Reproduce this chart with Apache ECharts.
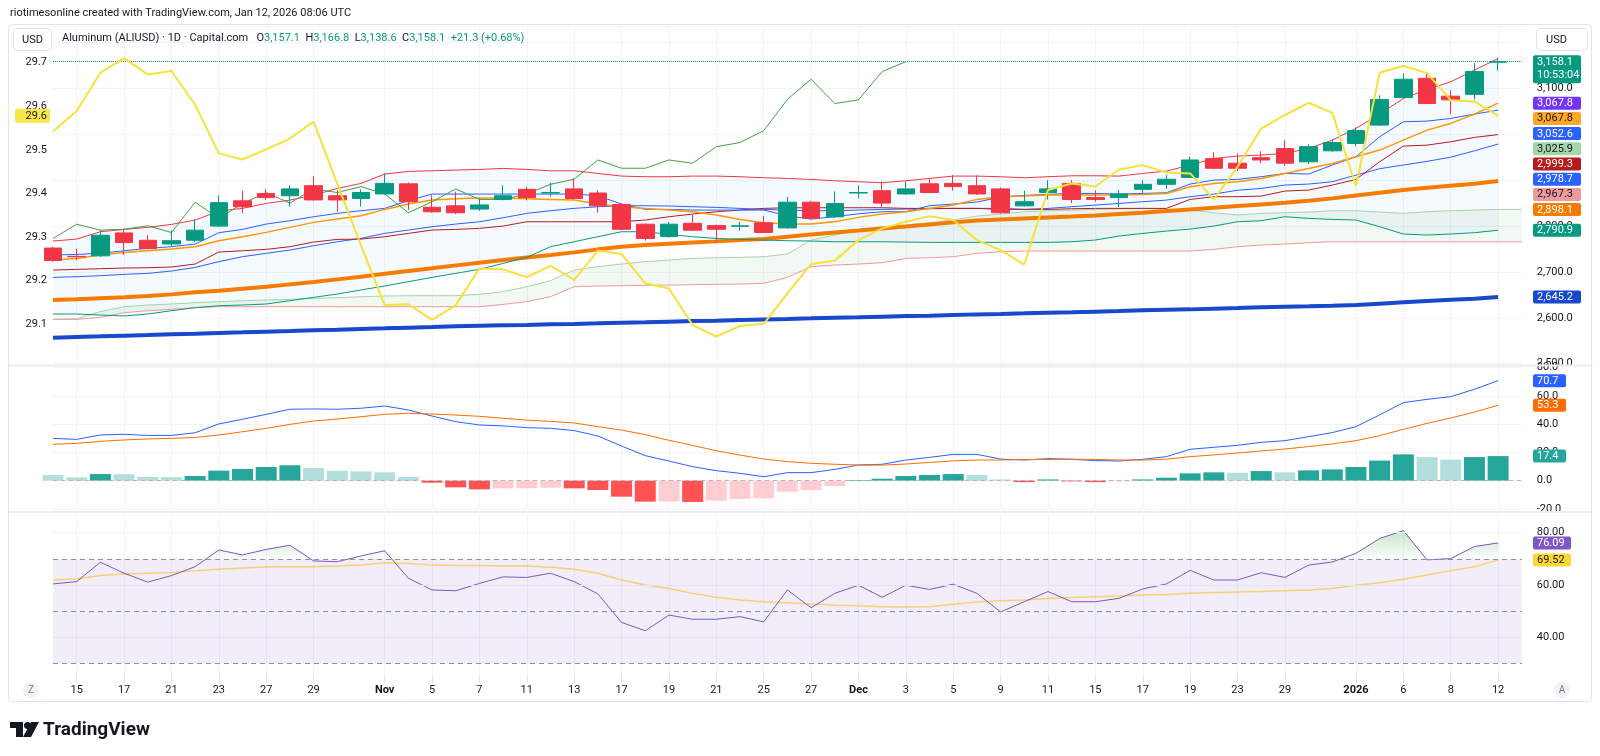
<!DOCTYPE html>
<html>
<head>
<meta charset="utf-8">
<title>Aluminum (ALIUSD) · 1D · Capital.com</title>
<script src="https://cdn.jsdelivr.net/npm/echarts@6.0.0/dist/echarts.min.js"></script>
<style>
    html, body { margin: 0; padding: 0; background: #ffffff; }
    #chart { width: 1600px; height: 756px; }
</style>
</head>
<body>
<div id="chart"></div>
<script type="text/javascript">
    // trading days on the chart
    var dates = ['2025-10-14','2025-10-15','2025-10-16','2025-10-17','2025-10-20','2025-10-21','2025-10-22','2025-10-23','2025-10-24','2025-10-27','2025-10-28','2025-10-29','2025-10-30','2025-10-31',
        '2025-11-03','2025-11-04','2025-11-05','2025-11-06','2025-11-07','2025-11-10','2025-11-11','2025-11-12','2025-11-13','2025-11-14','2025-11-17','2025-11-18','2025-11-19','2025-11-20','2025-11-21','2025-11-24','2025-11-25','2025-11-26','2025-11-27','2025-11-28',
        '2025-12-01','2025-12-02','2025-12-03','2025-12-04','2025-12-05','2025-12-08','2025-12-09','2025-12-10','2025-12-11','2025-12-12','2025-12-15','2025-12-16','2025-12-17','2025-12-18','2025-12-19','2025-12-22','2025-12-23','2025-12-24','2025-12-29','2025-12-30','2025-12-31',
        '2026-01-02','2026-01-05','2026-01-06','2026-01-07','2026-01-08','2026-01-09','2026-01-12'];

    // time axis labels
    var tickDates = ['2025-10-15','2025-10-17','2025-10-21','2025-10-23','2025-10-27','2025-10-29','2025-11-03','2025-11-05','2025-11-07','2025-11-11','2025-11-13','2025-11-17','2025-11-19','2025-11-21','2025-11-25','2025-11-27',
        '2025-12-01','2025-12-03','2025-12-05','2025-12-09','2025-12-11','2025-12-15','2025-12-17','2025-12-19','2025-12-23','2025-12-29','2026-01-02','2026-01-06','2026-01-08','2026-01-12'];
    var tickNames = ['15','17','21','23','27','29','Nov','5','7','11','13','17','19','21','25','27','Dec','3','5','9','11','15','17','19','23','29','2026','6','8','12'];

    // candles: open, close, low, high
    var ohlc = [
        [2752,2725,2722,2755],[2734,2733,2726,2751],[2735,2780,2733,2791],[2785,2764,2737,2793],[2769,2751,2749,2780],
        [2761,2768,2757,2790],[2769,2791,2765,2815],[2800,2851,2798,2867],[2855,2842,2828,2877],[2871,2862,2857,2881],
        [2866,2881,2842,2889],[2888,2857,2855,2909],[2866,2857,2831,2878],[2860,2873,2842,2880],[2870,2893,2868,2915],
        [2892,2853,2835,2895],[2841,2831,2829,2867],[2844,2829,2826,2875],[2837,2846,2833,2860],[2858,2866,2856,2889],
        [2880,2862,2856,2886],[2872,2873,2864,2894],[2881,2860,2858,2904],[2872,2844,2829,2878],[2847,2793,2792,2849],
        [2804,2773,2768,2806],[2777,2804,2775,2809],[2806,2791,2789,2824],[2801,2793,2766,2803],[2799.5,2800.5,2790,2809],
        [2807,2786,2785,2822],[2796,2852,2794,2864],[2852,2817,2815,2855],[2820,2849,2818,2875],[2872,2873,2860,2889],
        [2877,2850,2842,2897],[2870,2881,2868,2897],[2892,2873,2872,2904],[2893,2886,2877,2911],[2888,2870,2868,2910],
        [2881,2829,2827,2884],[2844,2853,2843,2877],[2873,2881,2858,2900],[2893,2858,2850,2900],[2862,2858,2853,2878],
        [2862,2870,2841,2878],[2880,2891,2871,2900],[2891,2902,2881,2911],[2906,2944,2905,2951],[2947,2926,2924,2961],
        [2937,2926,2920,2958],[2949,2944,2937,2963],[2969,2937,2931,2987],[2940,2973,2935,2978],[2964,2982,2962,2989],
        [2980,3008,2974,3015],[3020,3076,3018,3085],[3080,3120,3078,3133],[3122,3067,3066,3135],[3083,3075,3044,3096],
        [3087,3136.8,3076,3155],[3157.1,3158.1,3138.6,3166.8]
    ];

    // overlays on the price scale
    var ema = [2725.9,2729.5,2736.8,2742.6,2746.2,2749.9,2755.0,2768.0,2776.7,2786.2,2797.1,2808.0,2815.2,2822.5,2836.3,2847.9,2856.6,2859.5,2861.0,2861.0,
        2859.5,2858.1,2856.6,2847.9,2842.1,2838.5,2834.8,2831.2,2823.9,2814.5,2807.2,2804.3,2804.3,2809.4,2818.9,2826.1,2831.2,2838.5,2845.7,2858.1,
        2863.9,2865.3,2867.5,2867.5,2867.5,2867.5,2869.0,2871.1,2885.7,2892.9,2896.6,2903.8,2914.7,2925.6,2936.5,2951.0,2965.6,2987.3,3009.1,3023.7,3044.0,3067.8];
    var sma100 = [2638.8,2640.2,2642.4,2644.6,2647.5,2651.1,2655.5,2659.1,2663.4,2667.8,2672.9,2678.0,2683.8,2689.6,2696.1,2701.9,2707.8,2714.3,2720.1,2725.9,
        2731.7,2736.8,2742.6,2749.2,2755.0,2758.6,2761.5,2764.4,2766.6,2769.5,2771.7,2776.7,2781.8,2786.2,2790.5,2794.9,2799.2,2803.6,2808.0,2812.3,
        2814.5,2816.7,2818.9,2821.0,2823.2,2826.1,2829.0,2832.7,2836.3,2839.9,2843.6,2847.2,2850.8,2855.2,2860.3,2866.8,2872.6,2878.4,2883.5,2887.9,2892.2,2898.1];
    var sma200 = [2556.7,2558.2,2559.6,2561.1,2562.5,2564.0,2565.4,2566.9,2568.3,2569.8,2571.2,2572.7,2574.1,2575.6,2577.0,2578.5,2579.9,2581.4,2582.9,2583.6,
        2584.3,2585.8,2586.5,2587.9,2589.4,2590.1,2591.6,2593.0,2593.7,2595.2,2596.6,2597.4,2598.8,2600.3,2601.0,2602.5,2603.9,2604.6,2606.1,2607.5,
        2608.3,2609.7,2611.2,2611.9,2613.4,2614.8,2616.3,2617.7,2618.4,2619.9,2621.3,2622.8,2624.2,2625.0,2626.4,2627.9,2630.8,2633.7,2636.6,2639.5,2641.7,2645.2];
    var bbUpper = [2767.3,2771.6,2787.6,2792.7,2797.1,2803.6,2813.0,2832.7,2838.5,2849.4,2856.6,2867.5,2882.0,2892.9,2913.3,2919.0,2920.5,2922.0,2923.4,2925.6,
        2923.4,2920.5,2920.5,2914.7,2908.9,2907.5,2907.5,2908.9,2908.9,2907.5,2905.3,2903.8,2901.6,2898.7,2896.6,2894.4,2898.7,2903.8,2908.9,2908.9,
        2907.5,2905.3,2907.5,2909.6,2909.6,2908.9,2914.7,2919.8,2932.9,2947.4,2952.5,2954.7,2958.3,2969.2,2987.3,3012.8,3044.0,3078.1,3097.7,3114.4,3139.8,3165.3];
    var bbBasis = [2688.1,2689.6,2691.8,2694.7,2696.9,2701.9,2709.9,2722.3,2733.2,2740.5,2747.7,2757.1,2765.8,2773.1,2784.0,2791.3,2798.5,2804.3,2809.4,2818.1,
        2827.6,2833.4,2838.5,2842.1,2844.3,2844.3,2843.6,2842.1,2840.7,2838.5,2836.3,2834.8,2833.4,2833.4,2834.8,2836.3,2837.0,2837.7,2838.5,2838.5,
        2838.5,2836.3,2838.5,2842.1,2845.7,2849.4,2853.0,2856.6,2863.9,2869.7,2878.0,2882.0,2889.3,2891.5,2896.6,2911.0,2925.0,2933.0,2941.0,2950.0,2964.0,2978.7];
    var bbLower = [2608.3,2608.3,2606.1,2603.9,2608.3,2615.5,2622.1,2626.4,2627.9,2630.1,2637.3,2644.6,2651.8,2660.6,2669.3,2678.7,2688.1,2696.9,2705.6,2718.6,
        2731.7,2755.0,2765.8,2776.7,2787.6,2787.6,2781.8,2776.7,2773.1,2770.9,2769.5,2768.0,2767.3,2765.8,2765.8,2765.8,2765.1,2764.4,2764.4,2764.4,
        2764.4,2764.4,2764.4,2765.8,2769.5,2778.2,2784.0,2789.1,2793.4,2800.0,2809.4,2811.6,2820.3,2816.7,2814.5,2813.1,2798.5,2782.6,2780.4,2782.6,2785.5,2790.9];
    var tenkan = [2736.8,2738.2,2740.5,2746.2,2751.3,2755.0,2760.8,2785.5,2792.7,2804.3,2811.6,2820.3,2827.6,2833.4,2838.5,2855.2,2869.7,2869.7,2869.7,2869.7,
        2869.7,2869.7,2869.7,2866.1,2847.9,2836.3,2836.3,2834.8,2834.8,2834.8,2834.8,2822.5,2815.2,2820.3,2826.8,2831.2,2831.2,2844.3,2847.9,2852.3,
        2863.2,2866.8,2869.0,2871.1,2871.1,2869.7,2871.1,2872.6,2891.5,2900.2,2901.6,2907.5,2914.7,2913.3,2932.9,2951.0,2994.6,3027.3,3028.7,3034.5,3044.0,3052.6];
    var kijun = [2704.1,2705.6,2707.0,2708.5,2709.2,2710.7,2717.2,2743.3,2746.2,2749.2,2755.0,2765.1,2770.9,2771.6,2776.7,2784.0,2791.3,2792.7,2794.9,2800.0,
        2809.4,2809.4,2809.4,2809.4,2809.4,2813.1,2820.3,2826.1,2831.2,2834.8,2838.5,2839.9,2839.9,2839.9,2839.9,2839.9,2838.5,2838.5,2838.5,2838.5,
        2836.3,2836.3,2836.3,2837.7,2838.5,2838.5,2838.5,2838.5,2858.1,2863.9,2863.9,2865.3,2876.2,2878.4,2889.3,2901.6,2940.1,2974.3,2976.4,2983.7,2993.2,2999.3];
    var lagging = [2773,2804,2791,2793,2800.5,2786,2852,2817,2849,2873,2850,2881,2873,2886,2870,2829,2853,2881,2858,2858,
        2870,2891,2902,2944,2926,2926,2944,2937,2973,2982,3008,3076,3120,3067,3075,3136.8,3158.1];
    // cloud runs one slot past the last candle
    var spanA = [2596.6,2598.1,2613.4,2624.2,2627.9,2630.1,2633.0,2635.1,2637.3,2638.8,2640.2,2642.4,2643.8,2646.0,2647.5,2648.2,2648.2,2648.2,2651.1,2656.9,
        2667.8,2680.9,2704.1,2711.4,2717.2,2722.3,2725.9,2729.5,2731.0,2731.7,2733.2,2739.0,2769.5,2780.4,2791.3,2798.5,2802.2,2807.2,2813.1,2821.8,
        2826.1,2831.2,2833.4,2834.8,2836.3,2837.7,2838.5,2836.3,2834.8,2829.0,2824.0,2827.6,2829.0,2830.5,2833.4,2833.4,2830.5,2827.6,2831.2,2833.4,2834.8,2836.3,2836.3];
    var spanB = [2596.6,2596.6,2601.0,2611.2,2615.5,2618.4,2622.1,2624.2,2624.2,2624.2,2624.2,2624.2,2624.2,2624.2,2624.2,2624.2,2624.2,2624.2,2624.2,2629.3,
        2635.1,2646.0,2667.8,2669.3,2670.0,2670.7,2671.4,2672.2,2672.9,2673.6,2675.1,2688.1,2711.4,2715.0,2717.2,2720.1,2729.5,2731.0,2733.2,2740.5,
        2744.1,2745.5,2745.5,2745.5,2745.5,2745.5,2745.5,2745.5,2745.5,2749.2,2755.0,2758.6,2760.8,2763.7,2765.8,2765.8,2765.8,2765.8,2765.8,2765.8,2765.8,2765.8,2765.8];

    // silver, left scale
    var silver = [29.542,29.589,29.677,29.710,29.673,29.681,29.603,29.492,29.478,29.501,29.526,29.565,29.422,29.281,29.144,29.146,29.110,29.144,29.228,29.226,
        29.208,29.234,29.202,29.269,29.261,29.194,29.182,29.098,29.072,29.096,29.101,29.171,29.238,29.246,29.293,29.320,29.335,29.348,29.339,29.293,
        29.270,29.237,29.408,29.423,29.416,29.455,29.465,29.448,29.446,29.387,29.461,29.549,29.580,29.608,29.585,29.417,29.677,29.693,29.676,29.614,29.611,29.578];

    // MACD pane
    var macd = [29.9,29.2,32.3,32.8,32.0,32.0,33.9,40.1,43.4,46.9,50.5,50.7,50.5,51.2,52.8,50.0,45.7,41.7,39.4,38.7,
        37.5,37.0,35.4,31.6,24.5,17.7,13.9,9.9,7.1,5.2,2.8,5.7,5.7,8.0,11.1,11.6,14.6,16.5,18.6,18.6,
        15.3,14.6,15.6,15.1,14.2,13.9,15.1,17.0,22.2,23.6,25.0,27.1,28.3,31.1,34.0,38.2,46.5,55.2,57.5,59.4,64.6,70.7];
    var signal = [25.7,26.4,27.8,28.8,29.5,29.9,30.6,32.3,34.6,37.0,39.8,42.2,43.6,45.2,46.9,47.6,47.1,46.4,45.5,44.1,
        42.8,41.9,40.8,38.2,35.8,32.5,28.6,24.9,21.2,18.1,15.3,13.5,12.3,11.6,11.1,11.0,11.8,12.9,14.0,14.6,
        14.6,15.0,15.0,15.2,15.0,14.6,14.6,15.2,17.0,18.2,19.6,21.0,22.4,24.1,26.0,28.3,31.8,36.3,40.5,44.3,48.5,53.3];
    var macdHist = [4.0,2.4,4.7,4.6,2.6,2.5,3.3,7.1,8.3,9.7,10.9,9.0,7.1,6.6,5.9,2.6,-1.4,-4.7,-6.1,-5.4,
        -5.3,-4.9,-5.4,-6.6,-11.3,-14.8,-14.7,-15.0,-14.1,-12.9,-12.5,-7.8,-6.6,-3.8,0.5,1.4,3.3,4.0,4.7,4.0,
        0.9,-1.0,0.9,-0.5,-1.0,-0.5,0.9,2.1,5.2,5.9,5.6,6.8,5.9,7.3,8.0,9.7,14.2,18.6,16.7,14.9,16.7,17.4];

    // RSI pane
    var rsi = [60.4,61.3,68.7,64.5,61.1,63.6,67.0,73.4,71.5,73.6,75.2,69.2,68.9,71.1,73.1,62.6,58.1,57.8,60.6,63.1,
        62.9,64.5,61.3,56.6,45.7,42.5,48.5,46.9,46.9,47.9,45.9,58.1,51.3,56.8,59.9,55.3,59.9,58.3,60.3,56.8,
        49.7,53.6,57.5,53.6,53.6,54.9,58.5,60.4,65.6,61.9,61.9,64.7,62.9,67.6,68.8,72.1,77.8,80.8,69.6,70.1,74.7,76.09];
    var rsiMa = [61.9,62.3,63.6,64.2,64.5,64.8,65.4,66.0,66.5,66.9,67.0,67.0,67.3,67.6,68.5,68.2,67.6,67.5,67.5,67.3,
        67.3,66.8,66.0,64.5,61.9,60.0,58.7,56.8,55.3,54.3,53.6,53.2,52.7,52.3,52.1,51.7,51.6,51.7,52.6,53.5,
        54.0,54.3,54.8,55.2,55.5,55.8,56.2,56.4,56.8,57.1,57.3,57.5,57.8,58.1,58.7,59.9,60.9,62.2,63.8,65.5,67.0,69.52];

    // last-value tags on the right scale
    var priceTags = [3158.1, 3067.8, 3067.8, 3052.6, 3025.9, 2999.3, 2978.7, 2967.3, 2898.1, 2790.9, 2645.2];
    var macdTags = [70.7, 53.3, 17.4];
    var rsiTags = [76.09, 69.52];
    var countdown = '10:53:04';

    var FONT = 'Roboto, "Noto Sans", "DejaVu Sans", sans-serif';
    var TXT = '#131722';
    var GRIDC = '#f0f3fa';

    var priceTagStyle = [['#089981','#fff'],['#7434f3','#fff'],['#ffa726','#131722'],['#2962ff','#fff'],['#a5d6a7','#131722'],['#b71c1c','#fff'],
        ['#2962ff','#fff'],['#ef9a9a','#131722'],['#f57c00','#fff'],['#089981','#fff'],['#1848cc','#fff']];
    var macdTagStyle = [['#2962ff','#fff'],['#ff6d00','#fff'],['#26a69a','#fff']];
    var rsiTagStyle = [['#7e57c2','#fff'],['#fdd835','#131722']];

    var chart = echarts.init(document.getElementById('chart'));
    var cats = dates.concat(['']);
    var tickMap = {};
    for (var k = 0; k < tickDates.length; k++) tickMap[tickDates[k]] = tickNames[k];
    function onTick(idx, val) { return tickMap.hasOwnProperty(val); }

    var bbWidth = bbUpper.map(function (v, i) { return +(v - bbLower[i]).toFixed(1); });
    var cloudWidth = spanA.map(function (v, i) { return +(v - spanB[i]).toFixed(1); });
    var obBase = rsi.map(function () { return 70; });
    var obPart = rsi.map(function (v) { return v > 70 ? +(v - 70).toFixed(2) : 0; });
    var histBars = macdHist.map(function (v, i) {
        var prev = i > 0 ? macdHist[i - 1] : v;
        var c = v >= 0 ? (v > prev ? '#26a69a' : '#b2dfdb') : (v > prev ? '#ffcdd2' : '#ff5252');
        return {value: v, itemStyle: {color: c}};
    });
    var last = ohlc[ohlc.length - 1];
    var prevClose = ohlc[ohlc.length - 2][1];

    function fmt(v, d) {
        return v.toLocaleString('en-US', {minimumFractionDigits: d, maximumFractionDigits: d});
    }

    function xAxisFor(gi, labels) {
        return {
            type: 'category', gridIndex: gi, data: cats, boundaryGap: false,
            axisLine: {show: false},
            axisTick: {show: labels, interval: onTick, length: 7, lineStyle: {color: '#e0e3eb'}},
            axisLabel: {
                show: labels, interval: onTick, margin: 9, color: TXT, fontSize: 11, fontFamily: FONT,
                formatter: function (val) {
                    var t = tickMap[val];
                    return (t === 'Nov' || t === 'Dec' || t === '2026') ? '{b|' + t + '}' : t;
                },
                rich: {b: {fontWeight: 'bold', fontSize: 11, color: TXT, fontFamily: FONT}}
            },
            splitLine: {show: true, interval: onTick, lineStyle: {color: GRIDC}}
        };
    }

    function line(data, color, width, opts) {
        var s = {type: 'line', xAxisIndex: 0, yAxisIndex: 0, data: data, symbol: 'none', silent: true,
            lineStyle: {color: color, width: width}, z: 3};
        if (opts) for (var p in opts) s[p] = opts[p];
        return s;
    }

    var axisText = {color: TXT, fontSize: 11, fontFamily: FONT};

    var option = {
        animation: false,
        backgroundColor: '#ffffff',
        grid: [
            {left: 53, width: 1468.8, top: 26, height: 337.7},
            {left: 53, width: 1468.8, top: 367, height: 142},
            {left: 53, width: 1468.8, top: 514, height: 162}
        ],
        xAxis: [xAxisFor(0, false), xAxisFor(1, false), xAxisFor(2, true)],
        yAxis: [
            {type: 'value', gridIndex: 0, position: 'right', min: 2500, max: 3236, interval: 100,
                axisLine: {show: false}, axisTick: {show: false},
                axisLabel: Object.assign({margin: 15, showMaxLabel: false, formatter: function (v) { return fmt(v, 1); }}, axisText),
                splitLine: {lineStyle: {color: GRIDC}}},
            {type: 'value', gridIndex: 0, position: 'left', min: 29.0096, max: 29.7841,
                axisLine: {show: false}, axisTick: {show: false}, splitLine: {show: false},
                axisLabel: Object.assign({margin: 6, customValues: [29.1, 29.2, 29.3, 29.4, 29.5, 29.6, 29.7],
                    formatter: function (v) { return v.toFixed(1); }}, axisText)},
            {type: 'value', gridIndex: 1, position: 'right', min: -20, max: 80.35, interval: 20,
                axisLine: {show: false}, axisTick: {show: false},
                axisLabel: Object.assign({margin: 15, showMaxLabel: false, formatter: function (v) { return v.toFixed(1); }}, axisText),
                splitLine: {lineStyle: {color: GRIDC}}},
            {type: 'value', gridIndex: 2, position: 'right', min: 25.2, max: 87.15,
                axisLine: {show: false}, axisTick: {show: false}, splitLine: {show: false},
                axisLabel: Object.assign({margin: 15, customValues: [40, 60, 80],
                    formatter: function (v) { return v.toFixed(2); }}, axisText)}
        ],
        series: [
            // bollinger fill and ichimoku cloud
            line(bbLower, '#000', 0, {stack: 'bb', z: 1, lineStyle: {opacity: 0}}),
            line(bbWidth, '#000', 0, {stack: 'bb', z: 1, lineStyle: {opacity: 0}, areaStyle: {color: 'rgba(33,150,243,0.06)'}}),
            line(spanB, '#000', 0, {stack: 'cloud', z: 1, lineStyle: {opacity: 0}}),
            line(cloudWidth, '#000', 0, {stack: 'cloud', z: 1, lineStyle: {opacity: 0}, areaStyle: {color: 'rgba(67,160,71,0.1)'}}),
            line(spanA, '#a5d6a7', 1),
            line(spanB, '#ef9a9a', 1),
            line(sma200, '#1848cc', 4),
            line(sma100, '#f57c00', 4),
            line(bbLower, '#089981', 1),
            line(bbBasis, '#2962ff', 1),
            line(bbUpper, '#f23645', 1),
            line(kijun, '#b71c1c', 1),
            line(tenkan, '#2962ff', 1),
            line(ema, '#ff9800', 1.5),
            line(lagging, '#43a047', 1),
            {
                type: 'candlestick', xAxisIndex: 0, yAxisIndex: 0, data: ohlc, barWidth: 18, clip: true, silent: true, z: 4,
                itemStyle: {color: '#089981', color0: '#f23645', borderColor: '#089981', borderColor0: '#f23645', borderWidth: 1},
                markLine: {symbol: 'none', silent: true, label: {show: false},
                    lineStyle: {color: '#089981', type: 'dotted', width: 1}, data: [{yAxis: last[1]}]}
            },
            line(silver, '#f7e13b', 2, {yAxisIndex: 1, z: 5}),

            // MACD
            {
                type: 'bar', xAxisIndex: 1, yAxisIndex: 2, data: histBars, barWidth: 21, silent: true, z: 2,
                markLine: {symbol: 'none', silent: true, label: {show: false},
                    lineStyle: {color: '#b2b5be', type: [4, 4], width: 1}, data: [{yAxis: 0}]}
            },
            line(macd, '#2962ff', 1, {xAxisIndex: 1, yAxisIndex: 2}),
            line(signal, '#ff6d00', 1, {xAxisIndex: 1, yAxisIndex: 2}),

            // RSI
            line(obBase, '#000', 0, {xAxisIndex: 2, yAxisIndex: 3, stack: 'ob', z: 1, lineStyle: {opacity: 0},
                markArea: {silent: true, itemStyle: {color: 'rgba(126,87,194,0.1)'}, data: [[{yAxis: 30}, {yAxis: 70}]]},
                markLine: {symbol: 'none', silent: true, label: {show: false}, data: [
                    {yAxis: 80, lineStyle: {color: GRIDC, type: 'solid', width: 1}},
                    {yAxis: 60, lineStyle: {color: '#e6e1f2', type: 'solid', width: 1}},
                    {yAxis: 40, lineStyle: {color: '#e6e1f2', type: 'solid', width: 1}},
                    {yAxis: 70, lineStyle: {color: '#8f929c', type: [5, 4], width: 1}},
                    {yAxis: 50, lineStyle: {color: '#8f929c', type: [5, 4], width: 1}},
                    {yAxis: 30, lineStyle: {color: '#8f929c', type: [5, 4], width: 1}}
                ]}
            }),
            line(obPart, '#000', 0, {xAxisIndex: 2, yAxisIndex: 3, stack: 'ob', z: 1, lineStyle: {opacity: 0},
                areaStyle: {color: new echarts.graphic.LinearGradient(0, 0, 0, 1, [
                    {offset: 0, color: 'rgba(76,175,80,0.45)'}, {offset: 1, color: 'rgba(76,175,80,0.03)'}])}}),
            line(rsiMa, 'rgba(251,192,45,0.65)', 1.5, {xAxisIndex: 2, yAxisIndex: 3}),
            line(rsi, '#7e57c2', 1, {xAxisIndex: 2, yAxisIndex: 3})
        ]
    };
    chart.setOption(option);

    // ---- overlay: frame, legend, tags ----
    function txt(x, y, s, font, fill, align, extra) {
        var st = {text: s, font: font, fill: fill, align: align || 'left', textAlign: align || 'left',
            verticalAlign: 'middle', textVerticalAlign: 'middle'};
        if (extra) for (var p in extra) st[p] = extra[p];
        return {type: 'text', x: x, y: y, silent: true, z: 100, style: st};
    }
    function box(x, y, w, h, fill, stroke, r) {
        return {type: 'rect', silent: true, z: 99, shape: {x: x, y: y, width: w, height: h, r: r || 0},
            style: {fill: fill, stroke: stroke || null, lineWidth: 1}};
    }

    var g = [];
    g.push(txt(10, 13, 'riotimesonline created with TradingView.com, Jan 12, 2026 08:06 UTC', '11px ' + FONT, TXT));
    g.push(box(8.5, 24.5, 1583, 677, 'none', '#e0e3eb', 4));
    g.push({type: 'line', silent: true, z: 98, shape: {x1: 9, y1: 365.5, x2: 1591, y2: 365.5}, style: {stroke: '#e9ecf2', lineWidth: 2}});
    g.push({type: 'line', silent: true, z: 98, shape: {x1: 9, y1: 512, x2: 1591, y2: 512}, style: {stroke: '#e9ecf2', lineWidth: 2}});

    // USD buttons
    g.push(box(13.5, 28.5, 38, 22, '#fff', '#e0e3eb', 4));
    g.push(txt(32.5, 40, 'USD', '11px ' + FONT, TXT, 'center'));
    g.push(box(1536.5, 28.5, 51, 22, '#fff', '#e0e3eb', 4));
    g.push(txt(1546, 40, 'USD', '11px ' + FONT, TXT, 'left'));

    // legend line
    var chg = last[1] - prevClose;
    var legend = '{n|Aluminum (ALIUSD) · 1D · Capital.com}   {n|O}{g|' + fmt(last[0], 1) + '}  {n|H}{g|' + fmt(last[3], 1) +
        '}  {n|L}{g|' + fmt(last[2], 1) + '}  {n|C}{g|' + fmt(last[1], 1) + '}  {g|+' + chg.toFixed(1) + ' (+' + (chg / prevClose * 100).toFixed(2) + '%)}';
    g.push(txt(62, 38, legend, '11px ' + FONT, TXT, 'left', {rich: {
        n: {fill: TXT, font: '11px ' + FONT}, g: {fill: '#089981', font: '11px ' + FONT}}}));

    // Z / A buttons and logo
    g.push({type: 'circle', silent: true, z: 99, shape: {cx: 31, cy: 690, r: 8}, style: {fill: '#f0f3fa'}});
    g.push(txt(31, 690, 'Z', '10px ' + FONT, '#787b86', 'center'));
    g.push({type: 'circle', silent: true, z: 99, shape: {cx: 1562, cy: 690, r: 8}, style: {fill: '#f0f3fa'}});
    g.push(txt(1562, 690, 'A', '10px ' + FONT, '#787b86', 'center'));
    g.push(box(10, 722, 13, 6, '#131722'));
    g.push(box(16, 722, 7, 15, '#131722'));
    g.push({type: 'circle', silent: true, z: 99, shape: {cx: 27.5, cy: 725.5, r: 3.5}, style: {fill: '#131722'}});
    g.push({type: 'polygon', silent: true, z: 99, shape: {points: [[31, 722], [39, 722], [31, 737], [23, 737]]}, style: {fill: '#131722'}});
    g.push(txt(43, 730, 'TradingView', 'bold 19px ' + FONT, TXT));

    // right-scale tags, pushed down when they would overlap
    function tags(values, styles, axis, width, first2) {
        var prevBottom = -1e9;
        values.forEach(function (v, i) {
            var two = first2 && i === 0;
            var h = two ? 28 : 13;
            var y = Math.max(chart.convertToPixel({yAxisIndex: axis}, v) - 6.5, prevBottom + 2.2);
            prevBottom = y + h;
            var d = axis === 3 ? 2 : 1;
            g.push(box(1533, y, width, h, styles[i][0], null, 2));
            g.push(txt(1537, y + 6.8, fmt(v, d), '11px ' + FONT, styles[i][1], 'left'));
            if (two) g.push(txt(1537, y + 20.5, countdown, '11px ' + FONT, styles[i][1], 'left'));
        });
    }
    tags(priceTags, priceTagStyle, 0, 48, true);
    tags(macdTags, macdTagStyle, 2, 33, false);
    tags(rsiTags, rsiTagStyle, 3, 38, false);

    // silver tag on the left scale
    var sy = chart.convertToPixel({yAxisIndex: 1}, silver[silver.length - 1]);
    g.push(box(15, sy - 7, 35, 14, '#f7e64a', null, 2));
    g.push(txt(47, sy, silver[silver.length - 1].toFixed(1), '11px ' + FONT, TXT, 'right'));

    chart.setOption({graphic: g});
</script>
</body>
</html>
